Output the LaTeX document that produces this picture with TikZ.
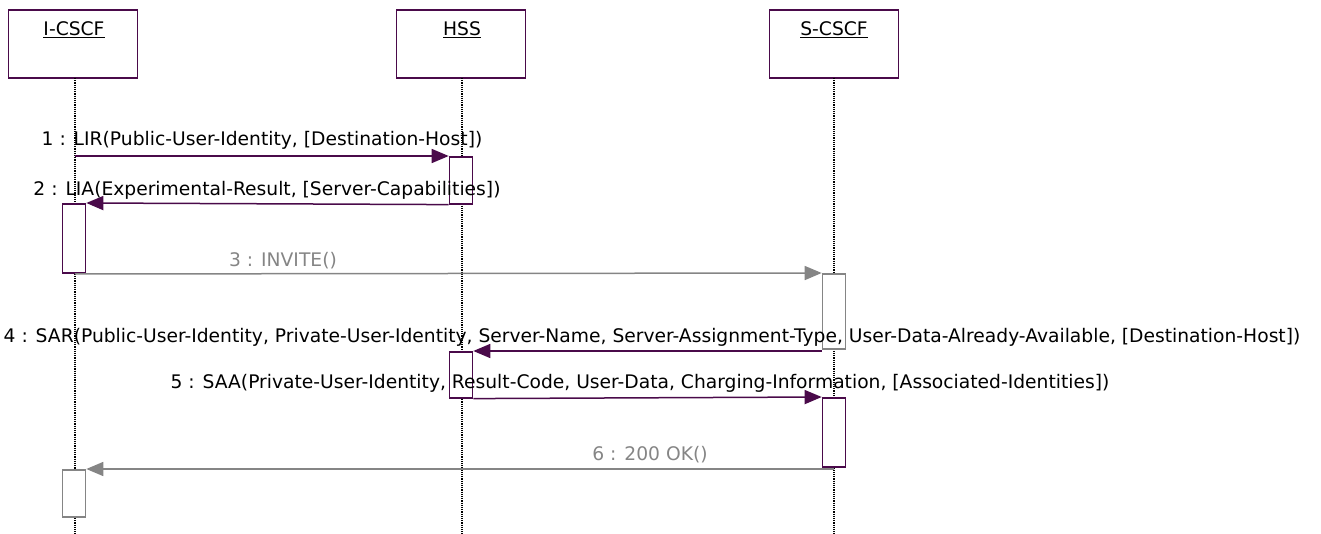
\documentclass[tikz,border=0pt]{standalone}
\usepackage{fontspec}
\setmainfont{DejaVu Sans}
\usetikzlibrary{arrows.meta}
\definecolor{pur}{HTML}{4A0A4A}
\definecolor{gry}{HTML}{858585}
\tikzset{
  x=1pt,y=-1pt,
  head/.style={draw=pur,line width=1.6pt,minimum width=129pt,minimum height=68pt,inner sep=0pt,anchor=north},
  act/.style={draw=pur,fill=white,line width=1.6pt,minimum width=23pt,inner sep=0pt,anchor=north},
  gact/.style={act,draw=gry},
  life/.style={densely dotted,line width=1.2pt,black},
  msg/.style={pur,line width=1.5pt,-{Triangle[length=17pt,width=14pt]}},
  gmsg/.style={msg,gry},
  lab/.style={font=\fontsize{18.7}{21}\selectfont,inner sep=0pt,text=black},
  glab/.style={lab,text=gry},
  htext/.style={font=\fontsize{18.7}{21}\selectfont,inner sep=0pt}
}
\begin{document}
\begin{tikzpicture}
\useasboundingbox (0,0) rectangle (1321,534);
% heads
\node[head] (ic) at (73,9) {};
\node[head] (hss) at (461,9) {};
\node[head] (sc) at (834,9) {};
\node[htext] (ict) at (74,30) {\underline{I-CSCF}};
\node[htext] (hsst) at (462,30) {\underline{HSS}};
\node[htext] (sct) at (834,30) {\underline{S-CSCF}};
% lifelines
\coordinate (icb) at (75,534);
\coordinate (hssb) at (462,534);
\coordinate (scb) at (834,534);
\draw[life] (75,78) coordinate (ictop) -- (icb);
\draw[life] (462,78) coordinate (hsstop) -- (hssb);
\draw[life] (834,78) coordinate (sctop) -- (scb);
% activations
\node[act,minimum height=47pt] (h1) at (461,156) {};
\node[act,minimum height=69pt] (i1) at (74,203) {};
\node[gact,minimum height=75pt] (s1) at (834,273) {};
\node[act,minimum height=46pt] (h2) at (461,351) {};
\node[act,minimum height=69pt] (s2) at (834,397) {};
\node[gact,minimum height=47pt] (i2) at (74,469) {};
% message end points
\coordinate (m1s) at (75,156);
\coordinate (m3s) at (75,274);
\coordinate (m6s) at (834,469);
% messages
\draw[msg] (m1s) -- (h1.north west);
\draw[msg] (h1.south west) -- (i1.north east);
\draw[gmsg] (m3s) -- (s1.north west);
\draw[msg] (s1.south west |- h2.north) -- (h2.north east);
\draw[msg] (h2.south east) -- (s2.north west);
\draw[gmsg] (m6s) -- (i2.north east);
% labels
\node[lab] (l1) at (262,140) {1 : LIR(Public-User-Identity, [Destination-Host])};
\node[lab] (l2) at (267,190) {2 : LIA(Experimental-Result, [Server-Capabilities])};
\node[glab] (l3) at (283,261) {3 : INVITE()};
\node[lab] (l4) at (652,337) {4 : SAR(Public-User-Identity, Private-User-Identity, Server-Name, Server-Assignment-Type, User-Data-Already-Available, [Destination-Host])};
\node[lab] (l5) at (640,383) {5 : SAA(Private-User-Identity, Result-Code, User-Data, Charging-Information, [Associated-Identities])};
\node[glab] (l6) at (650,455) {6 : 200 OK()};
\end{tikzpicture}
\end{document}
